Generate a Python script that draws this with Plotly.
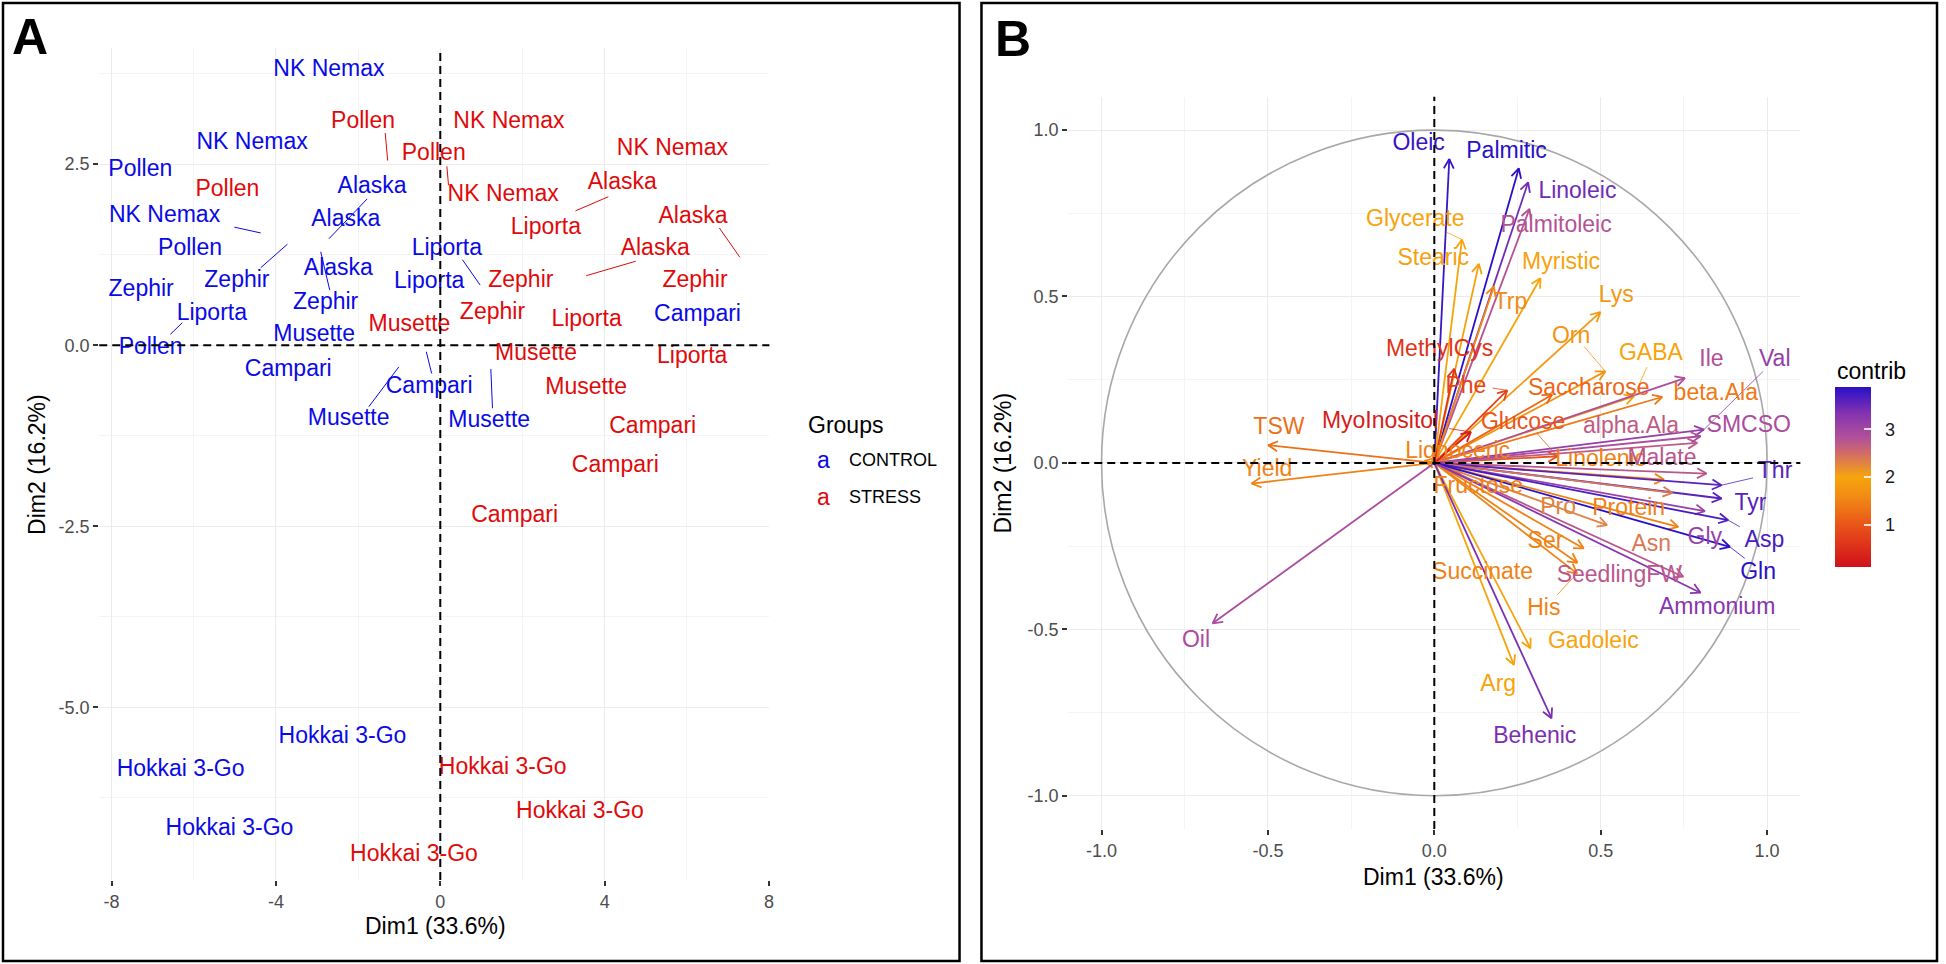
import numpy as np
import plotly.graph_objects as go
from plotly.colors import sample_colorscale

W, H = 1946, 964
FONT = "Liberation Sans, Arial, Helvetica, sans-serif"

# ---------------- Panel A : individuals ----------------
ctrl_names = ["NK Nemax", "NK Nemax", "Pollen", "NK Nemax", "Pollen", "Zephir",
              "Zephir", "Liporta", "Pollen", "Alaska", "Alaska", "Alaska",
              "Zephir", "Musette", "Campari", "Campari", "Liporta", "Liporta",
              "Campari", "Musette", "Musette", "Hokkai 3-Go", "Hokkai 3-Go", "Hokkai 3-Go"]
ctrl_x = [-2.71, -4.58, -7.30, -6.71, -6.09, -7.28, -4.95, -5.56, -7.05, -1.66, -2.30, -2.48,
          -2.79, -3.07, -3.70, -0.27, 0.16, -0.27, 6.26, 1.19, -2.23, -2.38, -6.32, -5.13]
ctrl_y = [3.79, 2.79, 2.42, 1.78, 1.33, 0.76, 0.88, 0.43, -0.04, 2.18, 1.72, 1.05,
          0.58, 0.135, -0.35, -0.58, 1.33, 0.87, 0.42, -1.055, -1.02, -5.42, -5.87, -6.68]

stress_names = ["Pollen", "Pollen", "Pollen", "Musette", "NK Nemax", "NK Nemax", "NK Nemax",
                "Alaska", "Liporta", "Alaska", "Alaska", "Zephir", "Zephir", "Zephir",
                "Liporta", "Musette", "Liporta", "Musette", "Campari", "Campari", "Campari",
                "Hokkai 3-Go", "Hokkai 3-Go", "Hokkai 3-Go"]
stress_x = [-1.88, -0.16, -5.18, -0.75, 1.67, 5.65, 1.53, 4.43, 2.57, 6.15, 5.23, 1.96, 6.20, 1.27,
            3.56, 2.33, 6.13, 3.55, 5.17, 4.26, 1.81, 1.52, 3.40, -0.64]
stress_y = [3.08, 2.63, 2.14, 0.27, 3.08, 2.70, 2.07, 2.23, 1.61, 1.77, 1.33, 0.885, 0.88, 0.44,
            0.35, -0.12, -0.16, -0.60, -1.13, -1.67, -2.36, -5.84, -6.45, -7.04]

# repel connector segments (from label to point)
ctrl_seg_x0 = [-5.01, -4.37, -6.28, -1.78, -2.91, -1.01, -0.34, 0.54, 1.23]
ctrl_seg_y0 = [1.63, 1.07, 0.31, 2.02, 1.29, -0.30, -0.09, 1.18, -0.33]
ctrl_seg_x1 = [-4.37, -3.72, -6.57, -2.71, -2.69, -1.74, -0.21, 0.97, 1.27]
ctrl_seg_y1 = [1.55, 1.395, 0.15, 1.47, 0.76, -0.85, -0.39, 0.83, -0.87]
stress_seg_x0 = [-1.34, 0.16, 4.09, 6.79, 4.76]
stress_seg_y0 = [2.93, 2.47, 2.05, 1.62, 1.16]
stress_seg_x1 = [-1.28, 0.20, 3.29, 7.29, 3.55]
stress_seg_y1 = [2.55, 2.21, 1.855, 1.215, 0.96]

group_names = ["CONTROL", "STRESS"]
group_colors = ["#0A0AE6", "#E00A0A"]

xticks_A = [-8, -4, 0, 4, 8]
xticktext_A = ["-8", "-4", "0", "4", "8"]
xminor_A = [-6, -2, 2, 6]
yticks_A = [-5.0, -2.5, 0.0, 2.5]
yticktext_A = ["-5.0", "-2.5", "0.0", "2.5"]
yminor_A = [-6.25, -3.75, -1.25, 1.25, 3.75]

# ---------------- Panel B : variables ----------------
var_names = ["Oleic", "Palmitic", "Linoleic", "Palmitoleic", "Glycerate", "Stearic", "Myristic",
             "Trp", "Lys", "Orn", "GABA", "Ile", "Val", "MethylCys", "Phe", "Saccharose",
             "beta.Ala", "MyoInositol", "Glucose", "alpha.Ala", "SMCSO", "TSW", "Yield",
             "Lignoceric", "Linolenic", "Malate", "Thr", "Fructose", "Pro", "Protein", "Tyr",
             "Asn", "Gly", "Asp", "Ser", "Gln", "Succinate", "SeedlingFW", "His", "Ammonium",
             "Gadoleic", "Arg", "Behenic", "Oil"]
var_x = [0.045, 0.254, 0.282, 0.286, 0.083, 0.134, 0.319,
         0.179, 0.499, 0.514, 0.600, 0.753, 0.810, 0.060, 0.219, 0.354,
         0.685, 0.110, 0.370, 0.790, 0.800, -0.499, -0.549,
         -0.030, 0.690, 0.818, 0.863, 0.080, 0.519, 0.733, 0.863,
         0.715, 0.813, 0.883, 0.449, 0.888, 0.430, 0.748, 0.429, 0.800,
         0.289, 0.239, 0.352, -0.666]
var_y = [0.913, 0.885, 0.843, 0.763, 0.671, 0.598, 0.555,
         0.530, 0.453, 0.275, 0.200, 0.255, 0.100, 0.283, 0.218, 0.205,
         0.198, 0.093, 0.020, 0.060, 0.080, 0.053, -0.062,
         0.005, -0.050, -0.032, -0.067, -0.030, -0.187, -0.192, -0.107,
         -0.090, -0.145, -0.172, -0.257, -0.252, -0.300, -0.342, -0.332, -0.390,
         -0.557, -0.607, -0.767, -0.482]
lab_x = [-0.047, 0.217, 0.430, 0.366, -0.057, -0.003, 0.381,
         0.229, 0.547, 0.411, 0.651, 0.833, 1.023, 0.016, 0.095, 0.464,
         0.846, -0.163, 0.267, 0.591, 0.945, -0.467, -0.502,
         0.070, 0.500, 0.684, 1.024, 0.132, 0.372, 0.584, 0.950,
         0.652, 0.813, 0.992, 0.334, 0.973, 0.145, 0.556, 0.329, 0.850,
         0.478, 0.192, 0.302, -0.716]
lab_y = [0.958, 0.933, 0.813, 0.710, 0.730, 0.613, 0.600,
         0.481, 0.500, 0.379, 0.326, 0.308, 0.308, 0.338, 0.228, 0.222,
         0.206, 0.123, 0.120, 0.106, 0.111, 0.103, -0.021,
         0.031, 0.007, 0.011, -0.027, -0.074, -0.137, -0.139, -0.124,
         -0.247, -0.227, -0.234, -0.237, -0.333, -0.332, -0.341, -0.439, -0.437,
         -0.539, -0.667, -0.824, -0.537]
contrib = [3.80, 3.89, 3.45, 2.80, 2.00, 1.95, 2.00,
           1.60, 1.80, 1.75, 2.00, 2.85, 3.15, 0.60, 0.80, 1.20,
           1.40, 0.30, 1.00, 2.70, 2.90, 1.30, 1.50,
           1.50, 1.50, 2.75, 3.60, 1.50, 2.30, 1.50, 3.60,
           2.40, 3.10, 3.70, 1.50, 3.89, 1.50, 2.75, 1.50, 3.30,
           2.00, 2.00, 3.40, 2.90]

# label -> arrow connectors (start point, ends on the arrow tip)
conn_names = ["Glycerate", "Orn", "GABA", "Phe", "MyoInositol", "Glucose", "Val", "Thr", "Asp", "Gln", "His"]
conn_x = [0.037, 0.450, 0.639, 0.175, 0.045, 0.309, 0.988, 0.958, 0.918, 0.933, 0.369]
conn_y = [0.693, 0.350, 0.288, 0.225, 0.103, 0.088, 0.275, -0.045, -0.192, -0.287, -0.397]

contrib_min, contrib_max = 0.13, 3.89
contrib_ticks = [1, 2, 3]
contrib_scale = [
    [0.00, "rgb(208,16,26)"],
    [0.22, "rgb(232,80,26)"],
    [0.40, "rgb(242,142,20)"],
    [0.50, "rgb(246,164,12)"],
    [0.62, "rgb(214,112,96)"],
    [0.72, "rgb(176,80,154)"],
    [0.85, "rgb(134,52,176)"],
    [1.00, "rgb(40,16,200)"],
]
ticks_B = [-1.0, -0.5, 0.0, 0.5, 1.0]
ticktext_B = ["-1.0", "-0.5", "0.0", "0.5", "1.0"]
minor_B = [-0.75, -0.25, 0.25, 0.75]

# ---------------- helpers (layout positions in pixels) ----------------
def fx(p):
    return p / W


def fy(p):
    return 1 - p / H


fig = go.Figure()

# ---- Panel A traces
for names, xs, ys, sx0, sy0, sx1, sy1, col in [
    (ctrl_names, ctrl_x, ctrl_y, ctrl_seg_x0, ctrl_seg_y0, ctrl_seg_x1, ctrl_seg_y1, group_colors[0]),
    (stress_names, stress_x, stress_y, stress_seg_x0, stress_seg_y0, stress_seg_x1, stress_seg_y1, group_colors[1]),
]:
    segx, segy = [], []
    for a, b, c, d in zip(sx0, sy0, sx1, sy1):
        segx += [a, c, None]
        segy += [b, d, None]
    fig.add_trace(go.Scatter(x=segx, y=segy, mode="lines", line=dict(color=col, width=1),
                             xaxis="x", yaxis="y", showlegend=False, hoverinfo="skip"))
    fig.add_trace(go.Scatter(x=xs, y=ys, text=names, mode="text", textposition="middle center",
                             textfont=dict(family=FONT, size=23, color=col), cliponaxis=False,
                             xaxis="x", yaxis="y", showlegend=False))

# ---- Panel B traces
norm = [(c - contrib_min) / (contrib_max - contrib_min) for c in contrib]
norm = [min(max(v, 0.0), 1.0) for v in norm]
var_colors = sample_colorscale(contrib_scale, norm)

HEAD = 0.032
ANG = np.deg2rad(28)
for i, name in enumerate(var_names):
    tx, ty = var_x[i], var_y[i]
    a = np.arctan2(ty, tx)
    hx = [tx - HEAD * np.cos(a + ANG), tx, tx - HEAD * np.cos(a - ANG)]
    hy = [ty - HEAD * np.sin(a + ANG), ty, ty - HEAD * np.sin(a - ANG)]
    fig.add_trace(go.Scatter(x=[0, tx, None] + hx, y=[0, ty, None] + hy, mode="lines",
                             line=dict(color=var_colors[i], width=1.8),
                             xaxis="x2", yaxis="y2", showlegend=False, hoverinfo="skip"))

for n, cx, cy in zip(conn_names, conn_x, conn_y):
    i = var_names.index(n)
    fig.add_trace(go.Scatter(x=[cx, var_x[i]], y=[cy, var_y[i]], mode="lines",
                             line=dict(color=var_colors[i], width=0.8),
                             xaxis="x2", yaxis="y2", showlegend=False, hoverinfo="skip"))

fig.add_trace(go.Scatter(x=lab_x, y=lab_y, text=var_names, mode="text", textposition="middle center",
                         textfont=dict(family=FONT, size=23, color=var_colors), cliponaxis=False,
                         xaxis="x2", yaxis="y2", showlegend=False))

# colour bar
fig.add_trace(go.Scatter(
    x=[None], y=[None], mode="markers", xaxis="x2", yaxis="y2", showlegend=False, hoverinfo="skip",
    marker=dict(color=[contrib_min], cmin=contrib_min, cmax=contrib_max, colorscale=contrib_scale,
                showscale=True,
                colorbar=dict(x=fx(1840), xanchor="left", y=fy(476.7), yanchor="middle",
                              len=180, lenmode="pixels", thickness=36, thicknessmode="pixels",
                              outlinewidth=0, xpad=0, ypad=0,
                              tickmode="array", tickvals=contrib_ticks,
                              ticktext=["  " + str(t) for t in contrib_ticks],
                              ticks="inside", ticklen=7, tickwidth=1.5, tickcolor="rgba(255,255,255,0.8)",
                              tickfont=dict(family=FONT, size=18, color="#1A1A1A")))))

grid_major = "#EBEBEB"
grid_minor = "#F4F4F4"
axis_common = dict(showline=False, zeroline=False, ticks="outside", ticklen=5, tickwidth=1.8,
                   tickcolor="#333333", tickfont=dict(family=FONT, size=18, color="#4D4D4D"),
                   showgrid=True, gridcolor=grid_major, gridwidth=1.4, tickmode="array")

fig.update_layout(
    width=W, height=H, autosize=False,
    margin=dict(l=0, r=0, t=0, b=0),
    paper_bgcolor="white", plot_bgcolor="white",
    font=dict(family=FONT),
    xaxis=dict(domain=[fx(99.5), fx(771.4)], range=[-8.3, 8.01], anchor="y",
               tickvals=xticks_A, ticktext=xticktext_A,
               minor=dict(tickmode="array", tickvals=xminor_A, showgrid=True, gridcolor=grid_minor,
                          gridwidth=0.9, ticks=""),
               **axis_common),
    yaxis=dict(domain=[fy(880), fy(48.3)], range=[-7.385, 4.10], anchor="x",
               tickvals=yticks_A, ticktext=yticktext_A,
               minor=dict(tickmode="array", tickvals=yminor_A, showgrid=True, gridcolor=grid_minor,
                          gridwidth=0.9, ticks=""),
               **axis_common),
    xaxis2=dict(domain=[fx(1071), fx(1805)], range=[-1.1, 1.1], anchor="y2",
                tickvals=ticks_B, ticktext=ticktext_B,
                minor=dict(tickmode="array", tickvals=minor_B, showgrid=True, gridcolor=grid_minor,
                           gridwidth=0.9, ticks=""),
                **axis_common),
    yaxis2=dict(domain=[fy(829), fy(96.8)], range=[-1.1, 1.1], anchor="x2",
                tickvals=ticks_B, ticktext=ticktext_B,
                minor=dict(tickmode="array", tickvals=minor_B, showgrid=True, gridcolor=grid_minor,
                           gridwidth=0.9, ticks=""),
                **axis_common),
)

dash = dict(color="black", width=2, dash="8px,5px")
shapes = [
    dict(type="line", xref="x", yref="y domain", x0=0, x1=0, y0=0, y1=1, line=dash),
    dict(type="line", xref="x domain", yref="y", x0=0, x1=1, y0=0, y1=0, line=dash),
    dict(type="circle", xref="x2", yref="y2", x0=-1, y0=-1, x1=1, y1=1,
         line=dict(color="#A8A8A8", width=1.6), layer="between"),
    dict(type="line", xref="x2", yref="y2 domain", x0=0, x1=0, y0=0, y1=1, line=dash),
    dict(type="line", xref="x2 domain", yref="y2", x0=0, x1=1, y0=0, y1=0, line=dash),
    dict(type="rect", xref="paper", yref="paper", x0=fx(3), x1=fx(962), y0=fy(961), y1=fy(3),
         line=dict(color="black", width=2.5)),
    dict(type="rect", xref="paper", yref="paper", x0=fx(984), x1=fx(1942), y0=fy(961), y1=fy(3),
         line=dict(color="black", width=2.5)),
]
fig.update_layout(shapes=shapes)


def note(text, x, y, size, color="black", xanchor="center", angle=0, bold=False):
    return dict(text=f"<b>{text}</b>" if bold else text, x=fx(x), y=fy(y), xref="paper", yref="paper",
                xanchor=xanchor, yanchor="middle", showarrow=False, textangle=angle,
                font=dict(family=FONT, size=size, color=color))


annotations = [
    note("A", 30, 37, 50, bold=True),
    note("B", 1016, 39, 50, bold=True),
    note("Dim1 (33.6%)", 436.6, 926, 23),
    note("Dim2 (16.2%)", 37, 464, 23, angle=-90),
    note("Dim1 (33.6%)", 1437.5, 877, 23),
    note("Dim2 (16.2%)", 1006, 463, 23, angle=-90),
    note("Groups", 808, 425, 23, xanchor="left"),
    note("a", 826, 460, 23, color=group_colors[0]),
    note(group_names[0], 849, 460, 18, xanchor="left"),
    note("a", 826, 497, 23, color=group_colors[1]),
    note(group_names[1], 849, 497, 18, xanchor="left"),
    note("contrib", 1840, 371, 23, xanchor="left"),
]
fig.update_layout(annotations=annotations)

fig.write_html("out.html", include_plotlyjs=True, full_html=True,
               config={"displayModeBar": False},
               post_script="document.body.style.margin='0px';document.body.style.overflow='hidden';")
